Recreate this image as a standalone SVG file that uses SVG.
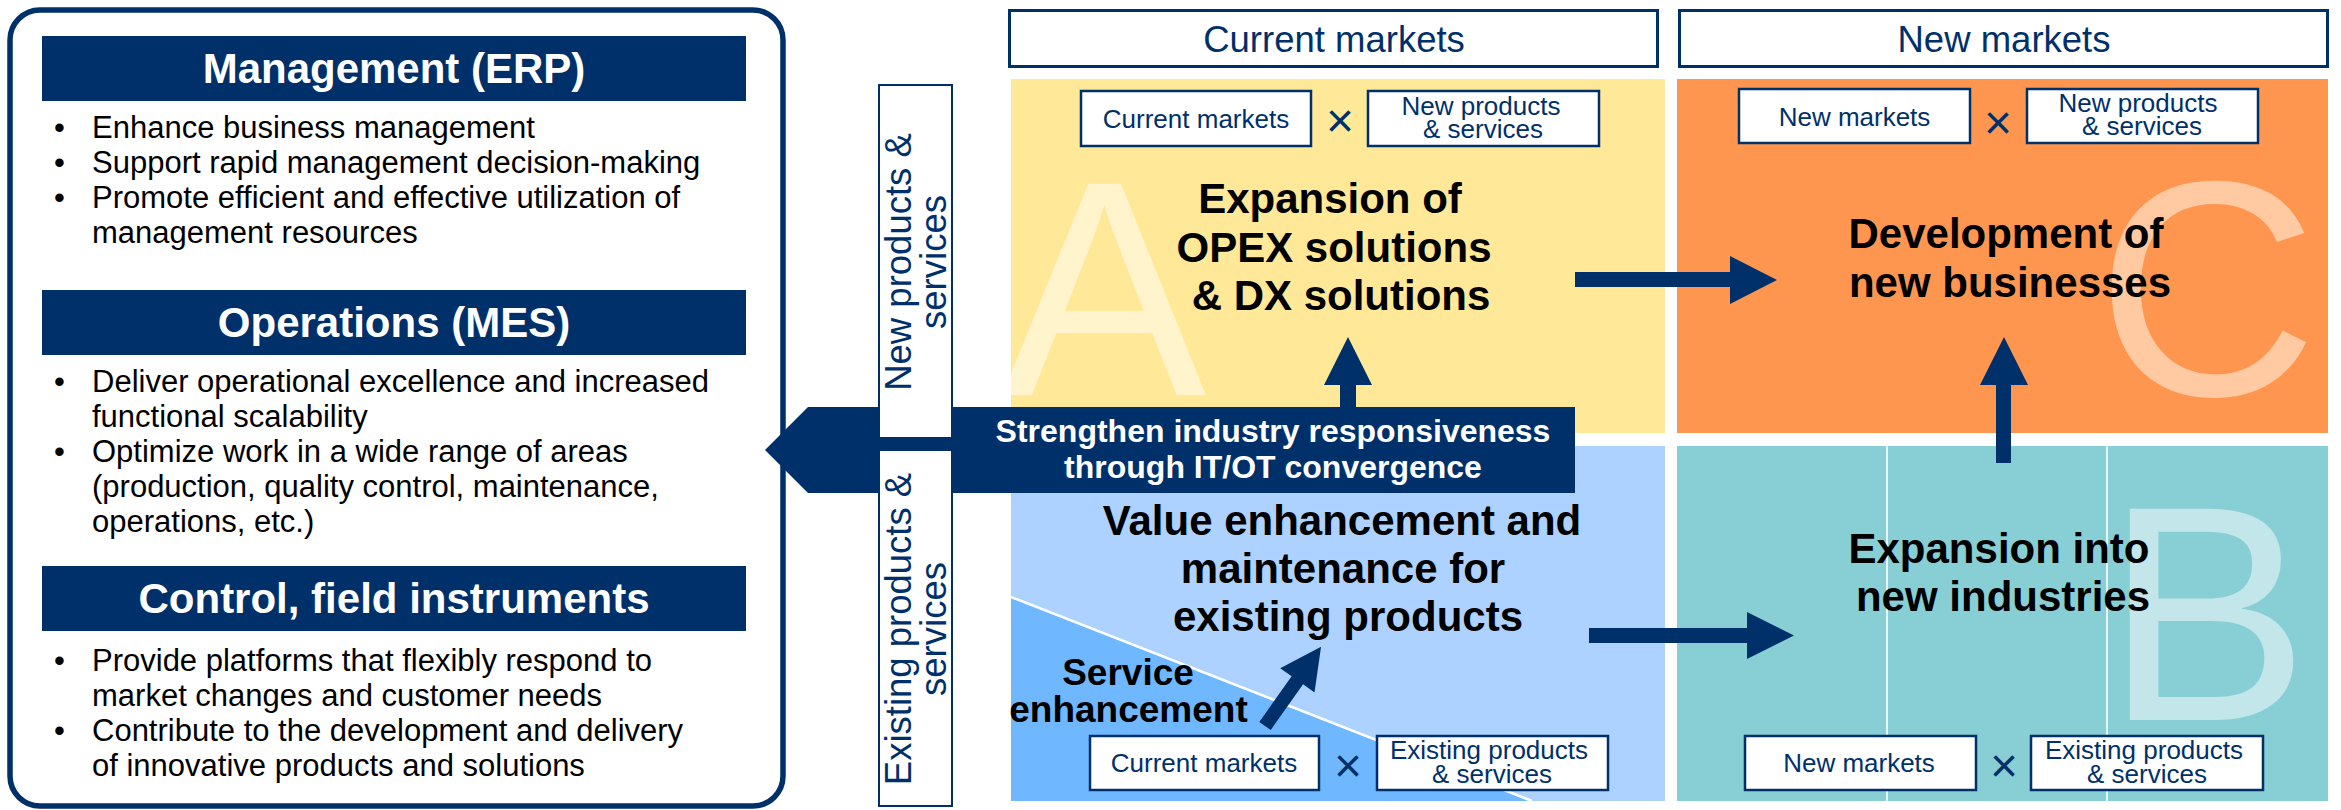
<svg xmlns="http://www.w3.org/2000/svg" width="2341" height="810" viewBox="0 0 2341 810">
  <defs>
    <style>
      text{font-family:"Liberation Sans",Arial,Helvetica,sans-serif}
      .navy{fill:#00306A}
      .panel{fill:#fff;stroke:#00306A;stroke-width:5.5}
      .hdr{font-weight:bold;font-size:42px;fill:#fff;text-anchor:middle}
      .body{font-size:31px;fill:#000}
      .main{font-weight:bold;font-size:42px;fill:#000;text-anchor:middle}
      .sub{font-weight:bold;font-size:37px;fill:#000;text-anchor:middle}
      .tag{fill:#fff;stroke:#00306A;stroke-width:2.5}
      .tagt{font-size:26px;fill:#00306A;text-anchor:middle}
      .mul{font-size:48px;fill:#00306A;text-anchor:middle}
      .big{font-size:307px;text-anchor:middle}
      .axis{fill:#fff;stroke:#00306A;stroke-width:3}
      .axist{font-size:36.5px;fill:#00306A;text-anchor:middle}
      .side{fill:#fff;stroke:#00306A;stroke-width:2}
      .vt{font-size:36.5px;fill:#00306A;text-anchor:middle}
      .ban{font-weight:bold;font-size:32px;fill:#fff;text-anchor:middle}
    </style>
    <clipPath id="clipA"><rect x="1011" y="79" width="654" height="354"/></clipPath>
    <clipPath id="clipC"><rect x="1677" y="79" width="651" height="354"/></clipPath>
    <clipPath id="clipB"><rect x="1677" y="446" width="651" height="355"/></clipPath>
  </defs>

  <!-- system layers panel -->
  <g id="layers">
    <rect class="panel" x="10" y="10" width="773" height="796" rx="30"/>
    <g id="erp">
      <rect class="navy" x="42" y="36" width="704" height="65"/>
      <text class="hdr" x="394" y="83">Management (ERP)</text>
      <text class="body" x="54" y="138">•</text>
      <text class="body" x="92" y="138">Enhance business management</text>
      <text class="body" x="54" y="173">•</text>
      <text class="body" x="92" y="173">Support rapid management decision-making</text>
      <text class="body" x="54" y="208">•</text>
      <text class="body" x="92" y="208">Promote efficient and effective utilization of<tspan x="92" y="243">management resources</tspan></text>
    </g>
    <g id="mes">
      <rect class="navy" x="42" y="290" width="704" height="65"/>
      <text class="hdr" x="394" y="337">Operations (MES)</text>
      <text class="body" x="54" y="392">•</text>
      <text class="body" x="92" y="392">Deliver operational excellence and increased<tspan x="92" y="427">functional scalability</tspan></text>
      <text class="body" x="54" y="462">•</text>
      <text class="body" x="92" y="462">Optimize work in a wide range of areas<tspan x="92" y="497">(production, quality control, maintenance,</tspan><tspan x="92" y="532">operations, etc.)</tspan></text>
    </g>
    <g id="control">
      <rect class="navy" x="42" y="566" width="704" height="65"/>
      <text class="hdr" x="394" y="613">Control, field instruments</text>
      <text class="body" x="54" y="671">•</text>
      <text class="body" x="92" y="671">Provide platforms that flexibly respond to<tspan x="92" y="706">market changes and customer needs</tspan></text>
      <text class="body" x="54" y="741">•</text>
      <text class="body" x="92" y="741">Contribute to the development and delivery<tspan x="92" y="776">of innovative products and solutions</tspan></text>
    </g>
  </g>

  <!-- market column headers -->
  <g id="col-current">
    <rect class="axis" x="1009.5" y="10.5" width="648" height="56"/>
    <text class="axist" x="1334" y="52">Current markets</text>
  </g>
  <g id="col-new">
    <rect class="axis" x="1679.5" y="10.5" width="648" height="56"/>
    <text class="axist" x="2004" y="52">New markets</text>
  </g>

  <!-- quadrant A -->
  <g id="quad-a">
    <rect x="1011" y="79" width="654" height="354" fill="#FFE999"/>
    <text class="big" x="1104" y="395" fill="#FFF4CC" clip-path="url(#clipA)">A</text>
  </g>
  <!-- quadrant C -->
  <g id="quad-c">
    <rect x="1677" y="79" width="651" height="354" fill="#FF9650"/>
    <text class="big" x="2207" y="395" fill="#FFC9A2" clip-path="url(#clipC)">C</text>
  </g>
  <!-- current markets x existing products -->
  <g id="quad-d">
    <rect x="1011" y="446" width="654" height="355" fill="#ADD2FF"/>
    <polygon points="1011,597 1532,801 1011,801" fill="#6FB8FF"/>
    <line x1="1011" y1="597" x2="1532" y2="801" stroke="#fff" stroke-width="2.5"/>
  </g>
  <!-- quadrant B -->
  <g id="quad-b">
    <rect x="1677" y="446" width="651" height="355" fill="#87CFD5"/>
    <line x1="1887" y1="446" x2="1887" y2="801" stroke="#fff" stroke-width="2" opacity="0.8"/>
    <line x1="2107" y1="446" x2="2107" y2="801" stroke="#fff" stroke-width="2" opacity="0.8"/>
    <text class="big" x="2207" y="720" fill="#C2E6E9" clip-path="url(#clipB)">B</text>
  </g>

  <!-- IT/OT convergence banner -->
  <g id="banner">
    <polygon class="navy" points="765,450 808,407 1575,407 1575,493 808,493"/>
    <text class="ban" x="1273" y="442">Strengthen industry responsiveness<tspan x="1273" y="478">through IT/OT convergence</tspan></text>
  </g>

  <!-- product axis labels -->
  <g id="row-new">
    <rect class="side" x="879" y="85" width="73" height="353"/>
    <text class="vt" transform="translate(911,262) rotate(-90)">New products &amp;<tspan x="0" y="35">services</tspan></text>
  </g>
  <g id="row-existing">
    <rect class="side" x="879" y="450" width="73" height="356"/>
    <text class="vt" transform="translate(911,629) rotate(-90)">Existing products &amp;<tspan x="0" y="35">services</tspan></text>
  </g>

  <!-- arrows -->
  <g id="connectors" class="navy">
    <polygon points="1340,408 1340,385 1324,385 1348,337 1372,385 1356,385 1356,408"/>
    <polygon points="1575,272 1730,272 1730,256 1777,280 1730,304 1730,287 1575,287"/>
    <polygon points="1996,463 1996,385 1980,385 2004,337 2028,385 2011,385 2011,463"/>
    <polygon points="1589,628 1747,628 1747,612 1794,635.5 1747,659 1747,643 1589,643"/>
    <polygon transform="translate(1265,726) rotate(-54.7)" points="0,-7 56,-7 56,-21 97,0 56,21 56,7 0,7"/>
  </g>

  <!-- quadrant titles -->
  <g id="title-a">
    <text class="main" x="1330" y="213">Expansion of<tspan x="1334" y="262">OPEX solutions</tspan><tspan x="1341" y="310">&amp; DX solutions</tspan></text>
  </g>
  <g id="title-c">
    <text class="main" x="2006" y="248">Development of<tspan x="2010" y="297">new businesses</tspan></text>
  </g>
  <g id="title-b">
    <text class="main" x="1999" y="563">Expansion into<tspan x="2003" y="611">new industries</tspan></text>
  </g>
  <g id="title-d">
    <text class="main" x="1342" y="535">Value enhancement and<tspan x="1343" y="583">maintenance for</tspan><tspan x="1348" y="631">existing products</tspan></text>
  </g>
  <g id="service">
    <text class="sub" x="1128" y="685">Service<tspan x="1128.5" y="722">enhancement</tspan></text>
  </g>

  <!-- market x product tags -->
  <g id="tags-a">
    <rect class="tag" x="1081" y="91" width="230" height="55"/>
    <text class="tagt" x="1196" y="128">Current markets</text>
    <text class="mul" x="1340" y="137">×</text>
    <rect class="tag" x="1368" y="91" width="231" height="55"/>
    <text class="tagt" x="1481" y="115">New products<tspan x="1483" y="138">&amp; services</tspan></text>
  </g>
  <g id="tags-c">
    <rect class="tag" x="1739" y="89" width="231" height="54"/>
    <text class="tagt" x="1854.5" y="126">New markets</text>
    <text class="mul" x="1998" y="139">×</text>
    <rect class="tag" x="2027" y="89" width="231" height="54"/>
    <text class="tagt" x="2138" y="112">New products<tspan x="2142" y="135">&amp; services</tspan></text>
  </g>
  <g id="tags-d">
    <rect class="tag" x="1090" y="736" width="229" height="54"/>
    <text class="tagt" x="1204" y="772">Current markets</text>
    <text class="mul" x="1348" y="782">×</text>
    <rect class="tag" x="1377" y="736" width="231" height="54"/>
    <text class="tagt" x="1489" y="759">Existing products<tspan x="1492" y="783">&amp; services</tspan></text>
  </g>
  <g id="tags-b">
    <rect class="tag" x="1745" y="736" width="231" height="54"/>
    <text class="tagt" x="1859" y="772">New markets</text>
    <text class="mul" x="2004" y="782">×</text>
    <rect class="tag" x="2031" y="736" width="232" height="54"/>
    <text class="tagt" x="2144" y="759">Existing products<tspan x="2147" y="783">&amp; services</tspan></text>
  </g>
</svg>
